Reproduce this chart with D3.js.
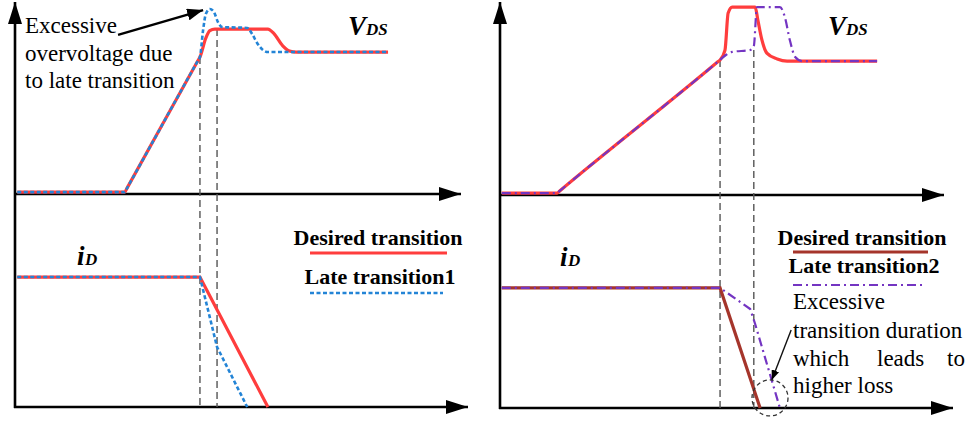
<!DOCTYPE html>
<html>
<head>
<meta charset="utf-8">
<script src="https://cdn.jsdelivr.net/npm/d3@7"></script>
</head>
<body style="margin:0">
<svg id="s" width="971" height="422"></svg>
<script>
// Switching waveforms: time in arbitrary units (0-100) vs. normalised level (0-100)
// Left pair: desired vs. late transition 1
const vdsDesired1 = [[0.5,1],[24.4,1],[24.9,3.1],[40.6,70.0],[41.1,72.1],[42.4,82],[43.3,86],[44.4,86.8],[56.2,86.8],[57.5,84.5],[59.5,78],[61,75.3],[62.5,74.7],[82.9,74.7]];
const vdsLate1    = [[0.5,1],[24.4,1],[24.9,3.1],[40.6,70.0],[41.1,72.1],[41.8,86.3],[42.4,94.7],[43.3,97.4],[44.2,95.8],[45.1,90.5],[46.0,87.9],[51.6,87.4],[52.7,84.2],[53.8,79.5],[55.1,75.8],[56.2,74.7],[82.9,74.7]];
const idDesired1  = [[0.5,68.4],[41.1,68.4],[56.2,0]];
const idLate1     = [[0.5,68.4],[41.1,68.4],[44.9,31.6],[51.6,0]];
const guides1     = [[41.1,72.1],[44.9,86.8]];   // [time, V_DS level where the guide starts]

// Right pair: desired vs. late transition 2
const vdsDesired2 = [[0.4,1],[12.7,1],[13.2,2],[48.4,70.1],[48.9,71.1],[50.0,76.3],[50.7,95.8],[51.6,98.9],[56.7,98.9],[57.3,92.1],[58.2,81.6],[59.3,74.7],[61.6,71.6],[63.8,70.5],[83.8,70.5]];
const vdsLate2    = [[0.4,1],[12.7,1],[13.2,2],[48.4,70.1],[48.9,71.1],[50.2,73.7],[51.6,75.3],[55.6,76.3],[56.4,78.4],[57.1,98.9],[57.8,98.9],[62.2,98.9],[63.3,93.7],[64.4,81.6],[65.6,72.6],[67.1,70.5],[83.8,70.5]];
const idDesired2  = [[0.4,63.2],[48.9,63.2],[57.8,0]];
const idLate2     = [[0.4,63.2],[48.9,63.2],[55.6,52.1],[56.7,44.2],[62.2,0]];
const guides2     = [[48.9,71.1],[56.4,76.3]];

// Legend labels
const legendLabels1 = ["Desired transition", "Late transition1"];
const legendLabels2 = ["Desired transition", "Late transition2"];

const svg = d3.select("#s");
const COL = { red: "#ff3d3d", blue: "#2384d6", purple: "#7435c2", brown: "#a5352b", guide: "#555" };

// Arrowhead markers
const defs = svg.append("defs");
function arrowMarker(id, len, half) {
  defs.append("marker")
    .attr("id", id).attr("markerUnits", "userSpaceOnUse")
    .attr("viewBox", `0 ${-half} ${len} ${half*2}`)
    .attr("refX", len).attr("refY", 0)
    .attr("markerWidth", len).attr("markerHeight", half*2)
    .attr("orient", "auto")
    .append("path").attr("d", `M0,${-half}L${len},0L0,${half}Z`).attr("fill", "#000");
}
arrowMarker("axisHead", 22, 7);
arrowMarker("noteHead", 16, 6);
arrowMarker("noteHeadSmall", 10, 4);

// Text rows: [content, x, y, size, bold, italic, anchor]
const textRows = [];
function addText(s, x, y, size, bold, italic, anchor) {
  textRows.push({ s, x, y, size, bold, italic, anchor: anchor || "start" });
}

function panel(opt) {
  const x = d3.scaleLinear().domain([0, 100]).range([opt.x0, opt.x0 + 450]);
  const yT = d3.scaleLinear().domain([0, 100]).range([opt.topAxisY, opt.topAxisY - 190]);
  const yB = d3.scaleLinear().domain([0, 100]).range([opt.botAxisY, opt.botAxisY - 190]);
  const g = svg.append("g");

  // Axes: one shared vertical axis, two time axes
  g.append("line").attr("x1", x(0)).attr("x2", x(0)).attr("y1", opt.botAxisY + 1).attr("y2", 2)
    .attr("stroke", "#000").attr("stroke-width", 2.6).attr("marker-end", "url(#axisHead)");
  g.append("line").attr("x1", x(0) - 1).attr("x2", opt.topTip).attr("y1", opt.topAxisY).attr("y2", opt.topAxisY)
    .attr("stroke", "#000").attr("stroke-width", 2.6).attr("marker-end", "url(#axisHead)");
  g.append("line").attr("x1", x(0) - 1).attr("x2", opt.botTip).attr("y1", opt.botAxisY).attr("y2", opt.botAxisY)
    .attr("stroke", "#000").attr("stroke-width", 2.6).attr("marker-end", "url(#axisHead)");

  // Timing guides
  g.selectAll(".guide").data(opt.guides).join("line")
    .attr("x1", d => x(d[0])).attr("x2", d => x(d[0]))
    .attr("y1", d => yT(d[1])).attr("y2", opt.botAxisY)
    .attr("stroke", COL.guide).attr("stroke-width", 1.4).attr("stroke-dasharray", "7,4");

  const lineT = d3.line().x(d => x(d[0])).y(d => yT(d[1])).curve(d3.curveMonotoneX);
  const lineB = d3.line().x(d => x(d[0])).y(d => yB(d[1]));

  g.append("path").attr("d", lineT(opt.vdsDesired)).attr("fill", "none")
    .attr("stroke", COL.red).attr("stroke-width", 3.2).attr("stroke-linejoin", "round");
  g.append("path").attr("d", lineT(opt.vdsLate)).attr("fill", "none")
    .attr("stroke", opt.lateColor).attr("stroke-width", opt.lateWidth).attr("stroke-dasharray", opt.lateDash);
  g.append("path").attr("d", lineB(opt.idDesired)).attr("fill", "none")
    .attr("stroke", opt.idColor).attr("stroke-width", 3.2);
  g.append("path").attr("d", lineB(opt.idLate)).attr("fill", "none")
    .attr("stroke", opt.lateColor).attr("stroke-width", opt.lateWidth).attr("stroke-dasharray", opt.lateDash);

  // Signal names (main letter + subscript)
  addText("V", opt.vdsLabelX, 35, 27, true, true);
  addText("DS", opt.vdsLabelX + 18, 35, 17, true, true);
  addText("i", opt.idLabelX, opt.idLabelY, 27, true, true);
  addText("D", opt.idLabelX + 8, opt.idLabelY, 17, true, true);

  // Legend
  const L = opt.legend;
  addText(opt.labels[0], L.cx, L.y1, 22, true, false, "middle");
  g.append("line").attr("x1", L.lx0).attr("x2", L.lx1).attr("y1", L.ly1).attr("y2", L.ly1)
    .attr("stroke", opt.idColor).attr("stroke-width", 3.2);
  addText(opt.labels[1], L.cx + 2, L.y2, 22, true, false, "middle");
  g.append("line").attr("x1", L.lx0).attr("x2", L.lx1 - 4).attr("y1", L.ly2).attr("y2", L.ly2)
    .attr("stroke", opt.lateColor).attr("stroke-width", opt.lateWidth).attr("stroke-dasharray", opt.lateDash);

  return { x, yT, yB, g };
}

const P1 = panel({
  x0: 15, topAxisY: 194, botAxisY: 407, topTip: 461, botTip: 468,
  guides: guides1, vdsDesired: vdsDesired1, vdsLate: vdsLate1,
  idDesired: idDesired1, idLate: idLate1,
  lateColor: COL.blue, lateWidth: 2.6, lateDash: "4,2.5", idColor: COL.red,
  vdsLabelX: 348, idLabelX: 77, idLabelY: 265,
  labels: legendLabels1,
  legend: { cx: 378, y1: 245, y2: 284, lx0: 310, lx1: 447, ly1: 253, ly2: 293 }
});

const P2 = panel({
  x0: 500, topAxisY: 195, botAxisY: 408, topTip: 944, botTip: 953,
  guides: guides2, vdsDesired: vdsDesired2, vdsLate: vdsLate2,
  idDesired: idDesired2, idLate: idLate2,
  lateColor: COL.purple, lateWidth: 2.2, lateDash: "9,4,2,4", idColor: COL.brown,
  vdsLabelX: 828, idLabelX: 560, idLabelY: 266,
  labels: legendLabels2,
  legend: { cx: 862, y1: 245, y2: 273, lx0: 793, lx1: 928, ly1: 252, ly2: 285 }
});

// Annotation: overvoltage of late transition 1
["Excessive", "overvoltage due", "to late transition"].forEach((s, i) => addText(s, 25, 33 + i * 27.5, 23, false, false));
P1.g.append("line")
  .attr("x1", P1.x(22.9)).attr("y1", P1.yT(83.7)).attr("x2", P1.x(41.8)).attr("y2", P1.yT(96.8))
  .attr("stroke", "#000").attr("stroke-width", 2.4).attr("marker-end", "url(#noteHead)");

// Annotation: extended current fall of late transition 2
addText("Excessive", 793, 309, 23, false, false);
addText("transition duration", 793, 338, 23, false, false);
addText("which", 793, 366, 23, false, false);
addText("leads", 877, 366, 23, false, false);
addText("to", 947, 366, 23, false, false);
addText("higher loss", 793, 393, 23, false, false);
P2.g.append("line")
  .attr("x1", P2.x(64.7)).attr("y1", P2.yB(41.1)).attr("x2", P2.x(60.4)).attr("y2", P2.yB(14.7))
  .attr("stroke", "#111").attr("stroke-width", 1.4).attr("marker-end", "url(#noteHeadSmall)");
P2.g.append("circle").attr("cx", P2.x(60)).attr("cy", P2.yB(5.3)).attr("r", 18)
  .attr("fill", "none").attr("stroke", "#333").attr("stroke-width", 1.3).attr("stroke-dasharray", "4,3");

// All labels in a serif face, placed directly on the root svg
svg.selectAll("text.lbl").data(textRows).join("text")
  .attr("class", "lbl")
  .attr("x", d => d.x).attr("y", d => d.y)
  .attr("font-size", d => d.size)
  .attr("text-anchor", d => d.anchor)
  .style("font-family", "Liberation Serif")
  .style("font-weight", d => d.bold ? "bold" : "normal")
  .style("font-style", d => d.italic ? "italic" : "normal")
  .text(d => d.s);
</script>
</body>
</html>
